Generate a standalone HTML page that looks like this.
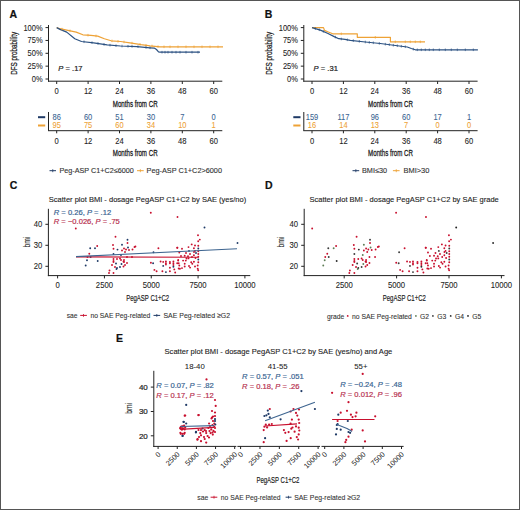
<!DOCTYPE html><html><head><meta charset="utf-8"><style>html,body{margin:0;padding:0;background:#fff;width:520px;height:510px;overflow:hidden}svg{display:block}text{font-family:"Liberation Sans",sans-serif}</style></head><body>
<svg width="520" height="510" viewBox="0 0 520 510">
<rect x="0" y="0" width="520" height="510" fill="#fff"/>
<text x="9.40" y="18.18" font-size="10.5" text-anchor="start" fill="#111" font-weight="bold"  style="stroke:#111;stroke-width:0.2px;">A</text>
<text transform="translate(13.6,53.3) rotate(-90)" x="0" y="0" font-size="9.2" text-anchor="middle" fill="#1a1a1a" style="stroke:#1a1a1a;stroke-width:0.25" textLength="43" lengthAdjust="spacingAndGlyphs" dominant-baseline="central">DFS probability</text>
<line x1="48.50" y1="25.00" x2="48.50" y2="81.70" stroke="#222" stroke-width="1"/>
<line x1="48.00" y1="81.20" x2="222.30" y2="81.20" stroke="#222" stroke-width="1"/>
<line x1="45.50" y1="27.60" x2="48.50" y2="27.60" stroke="#222" stroke-width="1"/>
<text x="42.60" y="30.57" font-size="8.25" text-anchor="end" fill="#222" font-weight="normal" textLength="19.18" lengthAdjust="spacingAndGlyphs"  style="stroke:#222;stroke-width:0.08px;">100%</text>
<line x1="45.50" y1="40.45" x2="48.50" y2="40.45" stroke="#222" stroke-width="1"/>
<text x="42.60" y="43.42" font-size="8.25" text-anchor="end" fill="#222" font-weight="normal" textLength="15.01" lengthAdjust="spacingAndGlyphs"  style="stroke:#222;stroke-width:0.08px;">75%</text>
<line x1="45.50" y1="53.30" x2="48.50" y2="53.30" stroke="#222" stroke-width="1"/>
<text x="42.60" y="56.27" font-size="8.25" text-anchor="end" fill="#222" font-weight="normal" textLength="15.01" lengthAdjust="spacingAndGlyphs"  style="stroke:#222;stroke-width:0.08px;">50%</text>
<line x1="45.50" y1="66.15" x2="48.50" y2="66.15" stroke="#222" stroke-width="1"/>
<text x="42.60" y="69.12" font-size="8.25" text-anchor="end" fill="#222" font-weight="normal" textLength="15.01" lengthAdjust="spacingAndGlyphs"  style="stroke:#222;stroke-width:0.08px;">25%</text>
<line x1="45.50" y1="79.00" x2="48.50" y2="79.00" stroke="#222" stroke-width="1"/>
<text x="42.60" y="81.97" font-size="8.25" text-anchor="end" fill="#222" font-weight="normal" textLength="10.84" lengthAdjust="spacingAndGlyphs"  style="stroke:#222;stroke-width:0.08px;">0%</text>
<line x1="56.70" y1="81.20" x2="56.70" y2="84.00" stroke="#222" stroke-width="1"/>
<text x="56.70" y="94.31" font-size="8.36" text-anchor="middle" fill="#222" font-weight="normal" textLength="4.23" lengthAdjust="spacingAndGlyphs"  style="stroke:#222;stroke-width:0.08px;">0</text>
<line x1="88.10" y1="81.20" x2="88.10" y2="84.00" stroke="#222" stroke-width="1"/>
<text x="88.10" y="94.31" font-size="8.36" text-anchor="middle" fill="#222" font-weight="normal" textLength="8.45" lengthAdjust="spacingAndGlyphs"  style="stroke:#222;stroke-width:0.08px;">12</text>
<line x1="119.50" y1="81.20" x2="119.50" y2="84.00" stroke="#222" stroke-width="1"/>
<text x="119.50" y="94.31" font-size="8.36" text-anchor="middle" fill="#222" font-weight="normal" textLength="8.45" lengthAdjust="spacingAndGlyphs"  style="stroke:#222;stroke-width:0.08px;">24</text>
<line x1="150.90" y1="81.20" x2="150.90" y2="84.00" stroke="#222" stroke-width="1"/>
<text x="150.90" y="94.31" font-size="8.36" text-anchor="middle" fill="#222" font-weight="normal" textLength="8.45" lengthAdjust="spacingAndGlyphs"  style="stroke:#222;stroke-width:0.08px;">36</text>
<line x1="182.30" y1="81.20" x2="182.30" y2="84.00" stroke="#222" stroke-width="1"/>
<text x="182.30" y="94.31" font-size="8.36" text-anchor="middle" fill="#222" font-weight="normal" textLength="8.45" lengthAdjust="spacingAndGlyphs"  style="stroke:#222;stroke-width:0.08px;">48</text>
<line x1="213.70" y1="81.20" x2="213.70" y2="84.00" stroke="#222" stroke-width="1"/>
<text x="213.70" y="94.31" font-size="8.36" text-anchor="middle" fill="#222" font-weight="normal" textLength="8.45" lengthAdjust="spacingAndGlyphs"  style="stroke:#222;stroke-width:0.08px;">60</text>
<text x="112.80" y="106.61" font-size="9.2" text-anchor="start" fill="#1a1a1a" font-weight="normal" textLength="44.8" lengthAdjust="spacingAndGlyphs"  style="stroke:#1a1a1a;stroke-width:0.28">Months from CR</text>
<text x="58.30" y="70.74" font-size="7.6" text-anchor="start" fill="#1a1a1a" font-weight="normal"  style="stroke:#1a1a1a;stroke-width:0.2px;"><tspan font-style="italic">P</tspan> = .17</text>
<path d="M56.70,27.60 L60.00,28.70 L66.70,30.10 L76.20,32.10 L82.90,34.80 L91.00,35.40 L97.70,36.10 L104.40,38.80 L111.10,40.80 L120.60,41.50 L130.00,42.80 L141.10,44.60 L150.00,45.80 L160.00,46.80 L223.00,46.80" stroke="#eea236" stroke-width="1.2" fill="none" stroke-linejoin="round"/>
<path d="M56.70,27.60 L60.00,29.40 L66.70,32.10 L74.80,38.80 L81.50,41.50 L93.60,42.80 L107.10,44.90 L120.60,46.00 L137.10,46.60 L150.00,47.80 L154.60,48.20 L156.50,49.50 L158.50,51.80 L160.00,52.20 L200.00,52.20" stroke="#2c5282" stroke-width="1.2" fill="none" stroke-linejoin="round"/>
<line x1="62.00" y1="27.82" x2="62.00" y2="30.42" stroke="#eea236" stroke-width="0.7"/>
<line x1="70.00" y1="29.49" x2="70.00" y2="32.09" stroke="#eea236" stroke-width="0.7"/>
<line x1="88.00" y1="33.88" x2="88.00" y2="36.48" stroke="#eea236" stroke-width="0.7"/>
<line x1="96.00" y1="34.62" x2="96.00" y2="37.22" stroke="#eea236" stroke-width="0.7"/>
<line x1="112.00" y1="39.57" x2="112.00" y2="42.17" stroke="#eea236" stroke-width="0.7"/>
<line x1="118.00" y1="40.01" x2="118.00" y2="42.61" stroke="#eea236" stroke-width="0.7"/>
<line x1="124.00" y1="40.67" x2="124.00" y2="43.27" stroke="#eea236" stroke-width="0.7"/>
<line x1="132.00" y1="41.82" x2="132.00" y2="44.42" stroke="#eea236" stroke-width="0.7"/>
<line x1="140.00" y1="43.12" x2="140.00" y2="45.72" stroke="#eea236" stroke-width="0.7"/>
<line x1="146.00" y1="43.96" x2="146.00" y2="46.56" stroke="#eea236" stroke-width="0.7"/>
<line x1="152.00" y1="44.70" x2="152.00" y2="47.30" stroke="#eea236" stroke-width="0.7"/>
<line x1="158.00" y1="45.30" x2="158.00" y2="47.90" stroke="#eea236" stroke-width="0.7"/>
<line x1="164.00" y1="45.50" x2="164.00" y2="48.10" stroke="#eea236" stroke-width="0.7"/>
<line x1="170.00" y1="45.50" x2="170.00" y2="48.10" stroke="#eea236" stroke-width="0.7"/>
<line x1="178.00" y1="45.50" x2="178.00" y2="48.10" stroke="#eea236" stroke-width="0.7"/>
<line x1="186.00" y1="45.50" x2="186.00" y2="48.10" stroke="#eea236" stroke-width="0.7"/>
<line x1="194.00" y1="45.50" x2="194.00" y2="48.10" stroke="#eea236" stroke-width="0.7"/>
<line x1="202.00" y1="45.50" x2="202.00" y2="48.10" stroke="#eea236" stroke-width="0.7"/>
<line x1="210.00" y1="45.50" x2="210.00" y2="48.10" stroke="#eea236" stroke-width="0.7"/>
<line x1="218.00" y1="45.50" x2="218.00" y2="48.10" stroke="#eea236" stroke-width="0.7"/>
<line x1="84.00" y1="40.47" x2="84.00" y2="43.07" stroke="#2c5282" stroke-width="0.7"/>
<line x1="92.00" y1="41.33" x2="92.00" y2="43.93" stroke="#2c5282" stroke-width="0.7"/>
<line x1="98.00" y1="42.18" x2="98.00" y2="44.78" stroke="#2c5282" stroke-width="0.7"/>
<line x1="104.00" y1="43.12" x2="104.00" y2="45.72" stroke="#2c5282" stroke-width="0.7"/>
<line x1="110.00" y1="43.84" x2="110.00" y2="46.44" stroke="#2c5282" stroke-width="0.7"/>
<line x1="116.00" y1="44.33" x2="116.00" y2="46.93" stroke="#2c5282" stroke-width="0.7"/>
<line x1="122.00" y1="44.75" x2="122.00" y2="47.35" stroke="#2c5282" stroke-width="0.7"/>
<line x1="128.00" y1="44.97" x2="128.00" y2="47.57" stroke="#2c5282" stroke-width="0.7"/>
<line x1="132.00" y1="45.11" x2="132.00" y2="47.71" stroke="#2c5282" stroke-width="0.7"/>
<line x1="138.00" y1="45.38" x2="138.00" y2="47.98" stroke="#2c5282" stroke-width="0.7"/>
<line x1="146.00" y1="46.13" x2="146.00" y2="48.73" stroke="#2c5282" stroke-width="0.7"/>
<line x1="150.00" y1="46.50" x2="150.00" y2="49.10" stroke="#2c5282" stroke-width="0.7"/>
<line x1="162.00" y1="50.90" x2="162.00" y2="53.50" stroke="#2c5282" stroke-width="0.7"/>
<line x1="165.00" y1="50.90" x2="165.00" y2="53.50" stroke="#2c5282" stroke-width="0.7"/>
<line x1="168.00" y1="50.90" x2="168.00" y2="53.50" stroke="#2c5282" stroke-width="0.7"/>
<line x1="172.00" y1="50.90" x2="172.00" y2="53.50" stroke="#2c5282" stroke-width="0.7"/>
<line x1="176.00" y1="50.90" x2="176.00" y2="53.50" stroke="#2c5282" stroke-width="0.7"/>
<line x1="180.00" y1="50.90" x2="180.00" y2="53.50" stroke="#2c5282" stroke-width="0.7"/>
<line x1="186.00" y1="50.90" x2="186.00" y2="53.50" stroke="#2c5282" stroke-width="0.7"/>
<line x1="192.00" y1="50.90" x2="192.00" y2="53.50" stroke="#2c5282" stroke-width="0.7"/>
<line x1="198.00" y1="50.90" x2="198.00" y2="53.50" stroke="#2c5282" stroke-width="0.7"/>
<line x1="48.50" y1="112.00" x2="48.50" y2="130.70" stroke="#222" stroke-width="1"/>
<line x1="48.00" y1="130.70" x2="222.30" y2="130.70" stroke="#222" stroke-width="1"/>
<line x1="38.00" y1="117.20" x2="45.20" y2="117.20" stroke="#1f3a66" stroke-width="2"/>
<line x1="38.00" y1="125.50" x2="45.20" y2="125.50" stroke="#eea236" stroke-width="2"/>
<line x1="56.70" y1="130.70" x2="56.70" y2="133.30" stroke="#222" stroke-width="1"/>
<text x="56.70" y="143.51" font-size="8.36" text-anchor="middle" fill="#222" font-weight="normal" textLength="4.23" lengthAdjust="spacingAndGlyphs"  style="stroke:#222;stroke-width:0.08px;">0</text>
<text x="56.70" y="120.07" font-size="8.25" text-anchor="middle" fill="#3a6592" font-weight="normal" textLength="8.34" lengthAdjust="spacingAndGlyphs"  style="stroke:#3a6592;stroke-width:0.08px;">86</text>
<text x="56.70" y="128.27" font-size="8.25" text-anchor="middle" fill="#eea236" font-weight="normal" textLength="8.34" lengthAdjust="spacingAndGlyphs"  style="stroke:#eea236;stroke-width:0.08px;">95</text>
<line x1="88.10" y1="130.70" x2="88.10" y2="133.30" stroke="#222" stroke-width="1"/>
<text x="88.10" y="143.51" font-size="8.36" text-anchor="middle" fill="#222" font-weight="normal" textLength="8.45" lengthAdjust="spacingAndGlyphs"  style="stroke:#222;stroke-width:0.08px;">12</text>
<text x="88.10" y="120.07" font-size="8.25" text-anchor="middle" fill="#3a6592" font-weight="normal" textLength="8.34" lengthAdjust="spacingAndGlyphs"  style="stroke:#3a6592;stroke-width:0.08px;">60</text>
<text x="88.10" y="128.27" font-size="8.25" text-anchor="middle" fill="#eea236" font-weight="normal" textLength="8.34" lengthAdjust="spacingAndGlyphs"  style="stroke:#eea236;stroke-width:0.08px;">75</text>
<line x1="119.50" y1="130.70" x2="119.50" y2="133.30" stroke="#222" stroke-width="1"/>
<text x="119.50" y="143.51" font-size="8.36" text-anchor="middle" fill="#222" font-weight="normal" textLength="8.45" lengthAdjust="spacingAndGlyphs"  style="stroke:#222;stroke-width:0.08px;">24</text>
<text x="119.50" y="120.07" font-size="8.25" text-anchor="middle" fill="#3a6592" font-weight="normal" textLength="8.34" lengthAdjust="spacingAndGlyphs"  style="stroke:#3a6592;stroke-width:0.08px;">51</text>
<text x="119.50" y="128.27" font-size="8.25" text-anchor="middle" fill="#eea236" font-weight="normal" textLength="8.34" lengthAdjust="spacingAndGlyphs"  style="stroke:#eea236;stroke-width:0.08px;">60</text>
<line x1="150.90" y1="130.70" x2="150.90" y2="133.30" stroke="#222" stroke-width="1"/>
<text x="150.90" y="143.51" font-size="8.36" text-anchor="middle" fill="#222" font-weight="normal" textLength="8.45" lengthAdjust="spacingAndGlyphs"  style="stroke:#222;stroke-width:0.08px;">36</text>
<text x="150.90" y="120.07" font-size="8.25" text-anchor="middle" fill="#3a6592" font-weight="normal" textLength="8.34" lengthAdjust="spacingAndGlyphs"  style="stroke:#3a6592;stroke-width:0.08px;">30</text>
<text x="150.90" y="128.27" font-size="8.25" text-anchor="middle" fill="#eea236" font-weight="normal" textLength="8.34" lengthAdjust="spacingAndGlyphs"  style="stroke:#eea236;stroke-width:0.08px;">34</text>
<line x1="182.30" y1="130.70" x2="182.30" y2="133.30" stroke="#222" stroke-width="1"/>
<text x="182.30" y="143.51" font-size="8.36" text-anchor="middle" fill="#222" font-weight="normal" textLength="8.45" lengthAdjust="spacingAndGlyphs"  style="stroke:#222;stroke-width:0.08px;">48</text>
<text x="182.30" y="120.07" font-size="8.25" text-anchor="middle" fill="#3a6592" font-weight="normal" textLength="4.17" lengthAdjust="spacingAndGlyphs"  style="stroke:#3a6592;stroke-width:0.08px;">7</text>
<text x="182.30" y="128.27" font-size="8.25" text-anchor="middle" fill="#eea236" font-weight="normal" textLength="8.34" lengthAdjust="spacingAndGlyphs"  style="stroke:#eea236;stroke-width:0.08px;">10</text>
<line x1="213.70" y1="130.70" x2="213.70" y2="133.30" stroke="#222" stroke-width="1"/>
<text x="213.70" y="143.51" font-size="8.36" text-anchor="middle" fill="#222" font-weight="normal" textLength="8.45" lengthAdjust="spacingAndGlyphs"  style="stroke:#222;stroke-width:0.08px;">60</text>
<text x="213.70" y="120.07" font-size="8.25" text-anchor="middle" fill="#3a6592" font-weight="normal" textLength="4.17" lengthAdjust="spacingAndGlyphs"  style="stroke:#3a6592;stroke-width:0.08px;">0</text>
<text x="213.70" y="128.27" font-size="8.25" text-anchor="middle" fill="#eea236" font-weight="normal" textLength="4.17" lengthAdjust="spacingAndGlyphs"  style="stroke:#eea236;stroke-width:0.08px;">1</text>
<text x="112.80" y="155.81" font-size="9.2" text-anchor="start" fill="#1a1a1a" font-weight="normal" textLength="44.8" lengthAdjust="spacingAndGlyphs"  style="stroke:#1a1a1a;stroke-width:0.28">Months from CR</text>
<line x1="49.50" y1="170.70" x2="56.00" y2="170.70" stroke="#1f3a66" stroke-width="1"/>
<line x1="52.75" y1="169.20" x2="52.75" y2="172.20" stroke="#1f3a66" stroke-width="0.8"/>
<text x="59.50" y="173.20" font-size="7.5" text-anchor="start" fill="#333" font-weight="normal" textLength="74.19999999999999" lengthAdjust="spacingAndGlyphs"  style="stroke:#333;stroke-width:0.12px;">Peg-ASP C1+C2≤6000</text>
<line x1="137.00" y1="170.70" x2="143.70" y2="170.70" stroke="#eea236" stroke-width="1"/>
<line x1="140.35" y1="169.20" x2="140.35" y2="172.20" stroke="#eea236" stroke-width="0.8"/>
<text x="146.50" y="173.20" font-size="7.5" text-anchor="start" fill="#333" font-weight="normal" textLength="75.5" lengthAdjust="spacingAndGlyphs"  style="stroke:#333;stroke-width:0.12px;">Peg-ASP C1+C2&gt;6000</text>
<text x="264.70" y="18.18" font-size="10.5" text-anchor="start" fill="#111" font-weight="bold"  style="stroke:#111;stroke-width:0.2px;">B</text>
<text transform="translate(268.90000000000003,53.3) rotate(-90)" x="0" y="0" font-size="9.2" text-anchor="middle" fill="#1a1a1a" style="stroke:#1a1a1a;stroke-width:0.25" textLength="43" lengthAdjust="spacingAndGlyphs" dominant-baseline="central">DFS probability</text>
<line x1="303.80" y1="25.00" x2="303.80" y2="81.70" stroke="#222" stroke-width="1"/>
<line x1="303.30" y1="81.20" x2="477.60" y2="81.20" stroke="#222" stroke-width="1"/>
<line x1="300.80" y1="27.60" x2="303.80" y2="27.60" stroke="#222" stroke-width="1"/>
<text x="297.90" y="30.57" font-size="8.25" text-anchor="end" fill="#222" font-weight="normal" textLength="19.18" lengthAdjust="spacingAndGlyphs"  style="stroke:#222;stroke-width:0.08px;">100%</text>
<line x1="300.80" y1="40.45" x2="303.80" y2="40.45" stroke="#222" stroke-width="1"/>
<text x="297.90" y="43.42" font-size="8.25" text-anchor="end" fill="#222" font-weight="normal" textLength="15.01" lengthAdjust="spacingAndGlyphs"  style="stroke:#222;stroke-width:0.08px;">75%</text>
<line x1="300.80" y1="53.30" x2="303.80" y2="53.30" stroke="#222" stroke-width="1"/>
<text x="297.90" y="56.27" font-size="8.25" text-anchor="end" fill="#222" font-weight="normal" textLength="15.01" lengthAdjust="spacingAndGlyphs"  style="stroke:#222;stroke-width:0.08px;">50%</text>
<line x1="300.80" y1="66.15" x2="303.80" y2="66.15" stroke="#222" stroke-width="1"/>
<text x="297.90" y="69.12" font-size="8.25" text-anchor="end" fill="#222" font-weight="normal" textLength="15.01" lengthAdjust="spacingAndGlyphs"  style="stroke:#222;stroke-width:0.08px;">25%</text>
<line x1="300.80" y1="79.00" x2="303.80" y2="79.00" stroke="#222" stroke-width="1"/>
<text x="297.90" y="81.97" font-size="8.25" text-anchor="end" fill="#222" font-weight="normal" textLength="10.84" lengthAdjust="spacingAndGlyphs"  style="stroke:#222;stroke-width:0.08px;">0%</text>
<line x1="312.00" y1="81.20" x2="312.00" y2="84.00" stroke="#222" stroke-width="1"/>
<text x="312.00" y="94.31" font-size="8.36" text-anchor="middle" fill="#222" font-weight="normal" textLength="4.23" lengthAdjust="spacingAndGlyphs"  style="stroke:#222;stroke-width:0.08px;">0</text>
<line x1="343.40" y1="81.20" x2="343.40" y2="84.00" stroke="#222" stroke-width="1"/>
<text x="343.40" y="94.31" font-size="8.36" text-anchor="middle" fill="#222" font-weight="normal" textLength="8.45" lengthAdjust="spacingAndGlyphs"  style="stroke:#222;stroke-width:0.08px;">12</text>
<line x1="374.80" y1="81.20" x2="374.80" y2="84.00" stroke="#222" stroke-width="1"/>
<text x="374.80" y="94.31" font-size="8.36" text-anchor="middle" fill="#222" font-weight="normal" textLength="8.45" lengthAdjust="spacingAndGlyphs"  style="stroke:#222;stroke-width:0.08px;">24</text>
<line x1="406.20" y1="81.20" x2="406.20" y2="84.00" stroke="#222" stroke-width="1"/>
<text x="406.20" y="94.31" font-size="8.36" text-anchor="middle" fill="#222" font-weight="normal" textLength="8.45" lengthAdjust="spacingAndGlyphs"  style="stroke:#222;stroke-width:0.08px;">36</text>
<line x1="437.60" y1="81.20" x2="437.60" y2="84.00" stroke="#222" stroke-width="1"/>
<text x="437.60" y="94.31" font-size="8.36" text-anchor="middle" fill="#222" font-weight="normal" textLength="8.45" lengthAdjust="spacingAndGlyphs"  style="stroke:#222;stroke-width:0.08px;">48</text>
<line x1="469.00" y1="81.20" x2="469.00" y2="84.00" stroke="#222" stroke-width="1"/>
<text x="469.00" y="94.31" font-size="8.36" text-anchor="middle" fill="#222" font-weight="normal" textLength="8.45" lengthAdjust="spacingAndGlyphs"  style="stroke:#222;stroke-width:0.08px;">60</text>
<text x="368.10" y="106.61" font-size="9.2" text-anchor="start" fill="#1a1a1a" font-weight="normal" textLength="44.8" lengthAdjust="spacingAndGlyphs"  style="stroke:#1a1a1a;stroke-width:0.28">Months from CR</text>
<text x="313.60" y="70.74" font-size="7.6" text-anchor="start" fill="#1a1a1a" font-weight="normal"  style="stroke:#1a1a1a;stroke-width:0.2px;"><tspan font-style="italic">P</tspan> = .31</text>
<path d="M312.00,27.60 L323.50,27.60 L324.50,30.40 L328.30,32.00 L332.70,33.80 L357.30,33.80 L357.30,37.30 L390.40,37.30 L390.40,41.80 L425.00,41.80" stroke="#eea236" stroke-width="1.2" fill="none" stroke-linejoin="round"/>
<path d="M312.00,27.60 L320.40,30.10 L328.00,33.50 L334.20,36.60 L338.80,38.70 L345.00,39.40 L350.30,40.30 L365.30,42.00 L380.30,43.50 L399.30,46.00 L407.30,47.00 L411.30,48.50 L415.30,49.80 L477.90,49.80" stroke="#2c5282" stroke-width="1.2" fill="none" stroke-linejoin="round"/>
<line x1="341.30" y1="32.50" x2="341.30" y2="35.10" stroke="#eea236" stroke-width="0.7"/>
<line x1="375.30" y1="36.00" x2="375.30" y2="38.60" stroke="#eea236" stroke-width="0.7"/>
<line x1="395.30" y1="40.50" x2="395.30" y2="43.10" stroke="#eea236" stroke-width="0.7"/>
<line x1="405.30" y1="40.50" x2="405.30" y2="43.10" stroke="#eea236" stroke-width="0.7"/>
<line x1="410.30" y1="40.50" x2="410.30" y2="43.10" stroke="#eea236" stroke-width="0.7"/>
<line x1="415.30" y1="40.50" x2="415.30" y2="43.10" stroke="#eea236" stroke-width="0.7"/>
<line x1="420.30" y1="40.50" x2="420.30" y2="43.10" stroke="#eea236" stroke-width="0.7"/>
<line x1="315.30" y1="27.28" x2="315.30" y2="29.88" stroke="#2c5282" stroke-width="0.7"/>
<line x1="319.30" y1="28.47" x2="319.30" y2="31.07" stroke="#2c5282" stroke-width="0.7"/>
<line x1="323.30" y1="30.10" x2="323.30" y2="32.70" stroke="#2c5282" stroke-width="0.7"/>
<line x1="335.30" y1="35.80" x2="335.30" y2="38.40" stroke="#2c5282" stroke-width="0.7"/>
<line x1="341.30" y1="37.68" x2="341.30" y2="40.28" stroke="#2c5282" stroke-width="0.7"/>
<line x1="347.30" y1="38.49" x2="347.30" y2="41.09" stroke="#2c5282" stroke-width="0.7"/>
<line x1="353.30" y1="39.34" x2="353.30" y2="41.94" stroke="#2c5282" stroke-width="0.7"/>
<line x1="359.30" y1="40.02" x2="359.30" y2="42.62" stroke="#2c5282" stroke-width="0.7"/>
<line x1="365.30" y1="40.70" x2="365.30" y2="43.30" stroke="#2c5282" stroke-width="0.7"/>
<line x1="369.30" y1="41.10" x2="369.30" y2="43.70" stroke="#2c5282" stroke-width="0.7"/>
<line x1="373.30" y1="41.50" x2="373.30" y2="44.10" stroke="#2c5282" stroke-width="0.7"/>
<line x1="379.30" y1="42.10" x2="379.30" y2="44.70" stroke="#2c5282" stroke-width="0.7"/>
<line x1="385.30" y1="42.86" x2="385.30" y2="45.46" stroke="#2c5282" stroke-width="0.7"/>
<line x1="389.30" y1="43.38" x2="389.30" y2="45.98" stroke="#2c5282" stroke-width="0.7"/>
<line x1="393.30" y1="43.91" x2="393.30" y2="46.51" stroke="#2c5282" stroke-width="0.7"/>
<line x1="397.30" y1="44.44" x2="397.30" y2="47.04" stroke="#2c5282" stroke-width="0.7"/>
<line x1="401.30" y1="44.95" x2="401.30" y2="47.55" stroke="#2c5282" stroke-width="0.7"/>
<line x1="405.30" y1="45.45" x2="405.30" y2="48.05" stroke="#2c5282" stroke-width="0.7"/>
<line x1="413.30" y1="47.85" x2="413.30" y2="50.45" stroke="#2c5282" stroke-width="0.7"/>
<line x1="417.30" y1="48.50" x2="417.30" y2="51.10" stroke="#2c5282" stroke-width="0.7"/>
<line x1="421.30" y1="48.50" x2="421.30" y2="51.10" stroke="#2c5282" stroke-width="0.7"/>
<line x1="425.30" y1="48.50" x2="425.30" y2="51.10" stroke="#2c5282" stroke-width="0.7"/>
<line x1="429.30" y1="48.50" x2="429.30" y2="51.10" stroke="#2c5282" stroke-width="0.7"/>
<line x1="433.30" y1="48.50" x2="433.30" y2="51.10" stroke="#2c5282" stroke-width="0.7"/>
<line x1="439.30" y1="48.50" x2="439.30" y2="51.10" stroke="#2c5282" stroke-width="0.7"/>
<line x1="445.30" y1="48.50" x2="445.30" y2="51.10" stroke="#2c5282" stroke-width="0.7"/>
<line x1="451.30" y1="48.50" x2="451.30" y2="51.10" stroke="#2c5282" stroke-width="0.7"/>
<line x1="457.30" y1="48.50" x2="457.30" y2="51.10" stroke="#2c5282" stroke-width="0.7"/>
<line x1="465.30" y1="48.50" x2="465.30" y2="51.10" stroke="#2c5282" stroke-width="0.7"/>
<line x1="473.30" y1="48.50" x2="473.30" y2="51.10" stroke="#2c5282" stroke-width="0.7"/>
<line x1="303.80" y1="112.00" x2="303.80" y2="130.70" stroke="#222" stroke-width="1"/>
<line x1="303.30" y1="130.70" x2="477.60" y2="130.70" stroke="#222" stroke-width="1"/>
<line x1="293.30" y1="117.20" x2="300.50" y2="117.20" stroke="#1f3a66" stroke-width="2"/>
<line x1="293.30" y1="125.50" x2="300.50" y2="125.50" stroke="#eea236" stroke-width="2"/>
<line x1="312.00" y1="130.70" x2="312.00" y2="133.30" stroke="#222" stroke-width="1"/>
<text x="312.00" y="143.51" font-size="8.36" text-anchor="middle" fill="#222" font-weight="normal" textLength="4.23" lengthAdjust="spacingAndGlyphs"  style="stroke:#222;stroke-width:0.08px;">0</text>
<text x="312.00" y="120.07" font-size="8.25" text-anchor="middle" fill="#3a6592" font-weight="normal" textLength="12.51" lengthAdjust="spacingAndGlyphs"  style="stroke:#3a6592;stroke-width:0.08px;">159</text>
<text x="312.00" y="128.27" font-size="8.25" text-anchor="middle" fill="#eea236" font-weight="normal" textLength="8.34" lengthAdjust="spacingAndGlyphs"  style="stroke:#eea236;stroke-width:0.08px;">16</text>
<line x1="343.40" y1="130.70" x2="343.40" y2="133.30" stroke="#222" stroke-width="1"/>
<text x="343.40" y="143.51" font-size="8.36" text-anchor="middle" fill="#222" font-weight="normal" textLength="8.45" lengthAdjust="spacingAndGlyphs"  style="stroke:#222;stroke-width:0.08px;">12</text>
<text x="343.40" y="120.07" font-size="8.25" text-anchor="middle" fill="#3a6592" font-weight="normal" textLength="11.96" lengthAdjust="spacingAndGlyphs"  style="stroke:#3a6592;stroke-width:0.08px;">117</text>
<text x="343.40" y="128.27" font-size="8.25" text-anchor="middle" fill="#eea236" font-weight="normal" textLength="8.34" lengthAdjust="spacingAndGlyphs"  style="stroke:#eea236;stroke-width:0.08px;">14</text>
<line x1="374.80" y1="130.70" x2="374.80" y2="133.30" stroke="#222" stroke-width="1"/>
<text x="374.80" y="143.51" font-size="8.36" text-anchor="middle" fill="#222" font-weight="normal" textLength="8.45" lengthAdjust="spacingAndGlyphs"  style="stroke:#222;stroke-width:0.08px;">24</text>
<text x="374.80" y="120.07" font-size="8.25" text-anchor="middle" fill="#3a6592" font-weight="normal" textLength="8.34" lengthAdjust="spacingAndGlyphs"  style="stroke:#3a6592;stroke-width:0.08px;">96</text>
<text x="374.80" y="128.27" font-size="8.25" text-anchor="middle" fill="#eea236" font-weight="normal" textLength="8.34" lengthAdjust="spacingAndGlyphs"  style="stroke:#eea236;stroke-width:0.08px;">13</text>
<line x1="406.20" y1="130.70" x2="406.20" y2="133.30" stroke="#222" stroke-width="1"/>
<text x="406.20" y="143.51" font-size="8.36" text-anchor="middle" fill="#222" font-weight="normal" textLength="8.45" lengthAdjust="spacingAndGlyphs"  style="stroke:#222;stroke-width:0.08px;">36</text>
<text x="406.20" y="120.07" font-size="8.25" text-anchor="middle" fill="#3a6592" font-weight="normal" textLength="8.34" lengthAdjust="spacingAndGlyphs"  style="stroke:#3a6592;stroke-width:0.08px;">60</text>
<text x="406.20" y="128.27" font-size="8.25" text-anchor="middle" fill="#eea236" font-weight="normal" textLength="4.17" lengthAdjust="spacingAndGlyphs"  style="stroke:#eea236;stroke-width:0.08px;">7</text>
<line x1="437.60" y1="130.70" x2="437.60" y2="133.30" stroke="#222" stroke-width="1"/>
<text x="437.60" y="143.51" font-size="8.36" text-anchor="middle" fill="#222" font-weight="normal" textLength="8.45" lengthAdjust="spacingAndGlyphs"  style="stroke:#222;stroke-width:0.08px;">48</text>
<text x="437.60" y="120.07" font-size="8.25" text-anchor="middle" fill="#3a6592" font-weight="normal" textLength="8.34" lengthAdjust="spacingAndGlyphs"  style="stroke:#3a6592;stroke-width:0.08px;">17</text>
<text x="437.60" y="128.27" font-size="8.25" text-anchor="middle" fill="#eea236" font-weight="normal" textLength="4.17" lengthAdjust="spacingAndGlyphs"  style="stroke:#eea236;stroke-width:0.08px;">0</text>
<line x1="469.00" y1="130.70" x2="469.00" y2="133.30" stroke="#222" stroke-width="1"/>
<text x="469.00" y="143.51" font-size="8.36" text-anchor="middle" fill="#222" font-weight="normal" textLength="8.45" lengthAdjust="spacingAndGlyphs"  style="stroke:#222;stroke-width:0.08px;">60</text>
<text x="469.00" y="120.07" font-size="8.25" text-anchor="middle" fill="#3a6592" font-weight="normal" textLength="4.17" lengthAdjust="spacingAndGlyphs"  style="stroke:#3a6592;stroke-width:0.08px;">1</text>
<text x="469.00" y="128.27" font-size="8.25" text-anchor="middle" fill="#eea236" font-weight="normal" textLength="4.17" lengthAdjust="spacingAndGlyphs"  style="stroke:#eea236;stroke-width:0.08px;">0</text>
<text x="368.10" y="155.81" font-size="9.2" text-anchor="start" fill="#1a1a1a" font-weight="normal" textLength="44.8" lengthAdjust="spacingAndGlyphs"  style="stroke:#1a1a1a;stroke-width:0.28">Months from CR</text>
<line x1="352.50" y1="170.70" x2="359.20" y2="170.70" stroke="#1f3a66" stroke-width="1"/>
<line x1="355.85" y1="169.20" x2="355.85" y2="172.20" stroke="#1f3a66" stroke-width="0.8"/>
<text x="362.00" y="173.20" font-size="7.5" text-anchor="start" fill="#333" font-weight="normal" textLength="24.999999999999986" lengthAdjust="spacingAndGlyphs"  style="stroke:#333;stroke-width:0.12px;">BMI≤30</text>
<line x1="392.90" y1="170.70" x2="399.60" y2="170.70" stroke="#eea236" stroke-width="1"/>
<line x1="396.25" y1="169.20" x2="396.25" y2="172.20" stroke="#eea236" stroke-width="0.8"/>
<text x="403.50" y="173.20" font-size="7.5" text-anchor="start" fill="#333" font-weight="normal" textLength="25.900000000000006" lengthAdjust="spacingAndGlyphs"  style="stroke:#333;stroke-width:0.12px;">BMI&gt;30</text>
<text x="9.80" y="189.48" font-size="10.5" text-anchor="start" fill="#111" font-weight="bold"  style="stroke:#111;stroke-width:0.2px;">C</text>
<text x="48.75" y="202.44" font-size="7.9" text-anchor="start" fill="#1e1e1e" font-weight="normal" textLength="197.5" lengthAdjust="spacingAndGlyphs"  style="stroke:#1e1e1e;stroke-width:0.12px;">Scatter plot BMI - dosage PegASP C1+C2 by SAE (yes/no)</text>
<line x1="48.40" y1="208.80" x2="48.40" y2="276.10" stroke="#222" stroke-width="1"/>
<line x1="47.90" y1="275.60" x2="250.30" y2="275.60" stroke="#222" stroke-width="1"/>
<line x1="45.40" y1="224.30" x2="48.40" y2="224.30" stroke="#222" stroke-width="1"/>
<text x="42.20" y="227.30" font-size="8.32" text-anchor="end" fill="#222" font-weight="normal" textLength="8.56" lengthAdjust="spacingAndGlyphs"  style="stroke:#222;stroke-width:0.08px;">40</text>
<line x1="45.40" y1="245.30" x2="48.40" y2="245.30" stroke="#222" stroke-width="1"/>
<text x="42.20" y="248.30" font-size="8.32" text-anchor="end" fill="#222" font-weight="normal" textLength="8.56" lengthAdjust="spacingAndGlyphs"  style="stroke:#222;stroke-width:0.08px;">30</text>
<line x1="45.40" y1="266.30" x2="48.40" y2="266.30" stroke="#222" stroke-width="1"/>
<text x="42.20" y="269.30" font-size="8.32" text-anchor="end" fill="#222" font-weight="normal" textLength="8.56" lengthAdjust="spacingAndGlyphs"  style="stroke:#222;stroke-width:0.08px;">20</text>
<text transform="translate(26.799999999999997,242) rotate(-90)" x="0" y="0" font-size="9" text-anchor="middle" fill="#1a1a1a" style="stroke:#1a1a1a;stroke-width:0.12" textLength="11" lengthAdjust="spacingAndGlyphs" dominant-baseline="central">bmi</text>
<line x1="57.60" y1="275.60" x2="57.60" y2="278.40" stroke="#222" stroke-width="1"/>
<text x="57.60" y="288.40" font-size="8.32" text-anchor="middle" fill="#222" font-weight="normal" textLength="4.28" lengthAdjust="spacingAndGlyphs"  style="stroke:#222;stroke-width:0.08px;">0</text>
<line x1="104.43" y1="275.60" x2="104.43" y2="278.40" stroke="#222" stroke-width="1"/>
<text x="104.43" y="288.40" font-size="8.32" text-anchor="middle" fill="#222" font-weight="normal" textLength="17.13" lengthAdjust="spacingAndGlyphs"  style="stroke:#222;stroke-width:0.08px;">2500</text>
<line x1="151.25" y1="275.60" x2="151.25" y2="278.40" stroke="#222" stroke-width="1"/>
<text x="151.25" y="288.40" font-size="8.32" text-anchor="middle" fill="#222" font-weight="normal" textLength="17.13" lengthAdjust="spacingAndGlyphs"  style="stroke:#222;stroke-width:0.08px;">5000</text>
<line x1="198.07" y1="275.60" x2="198.07" y2="278.40" stroke="#222" stroke-width="1"/>
<text x="198.07" y="288.40" font-size="8.32" text-anchor="middle" fill="#222" font-weight="normal" textLength="17.13" lengthAdjust="spacingAndGlyphs"  style="stroke:#222;stroke-width:0.08px;">7500</text>
<line x1="244.90" y1="275.60" x2="244.90" y2="278.40" stroke="#222" stroke-width="1"/>
<text x="244.90" y="288.40" font-size="8.32" text-anchor="middle" fill="#222" font-weight="normal" textLength="21.41" lengthAdjust="spacingAndGlyphs"  style="stroke:#222;stroke-width:0.08px;">10000</text>
<text x="66.70" y="318.17" font-size="7.7" text-anchor="start" fill="#333" font-weight="normal" textLength="10.8" lengthAdjust="spacingAndGlyphs"  style="stroke:#333;stroke-width:0.1px;">sae</text>
<line x1="80.20" y1="315.40" x2="86.90" y2="315.40" stroke="#c8102e" stroke-width="1"/>
<line x1="83.50" y1="314.00" x2="83.50" y2="316.80" stroke="#c8102e" stroke-width="0.8"/>
<text x="90.40" y="318.17" font-size="7.7" text-anchor="start" fill="#333" font-weight="normal" textLength="60" lengthAdjust="spacingAndGlyphs"  style="stroke:#333;stroke-width:0.1px;">no SAE Peg-related</text>
<line x1="153.50" y1="315.40" x2="160.20" y2="315.40" stroke="#1f3a66" stroke-width="1"/>
<line x1="156.80" y1="314.00" x2="156.80" y2="316.80" stroke="#1f3a66" stroke-width="0.8"/>
<text x="163.50" y="318.17" font-size="7.7" text-anchor="start" fill="#333" font-weight="normal" textLength="66.5" lengthAdjust="spacingAndGlyphs"  style="stroke:#333;stroke-width:0.1px;">SAE Peg-related ≥G2</text>
<text x="126.20" y="301.29" font-size="9.7" text-anchor="start" fill="#1a1a1a" font-weight="normal" textLength="43" lengthAdjust="spacingAndGlyphs"  style="stroke:#1a1a1a;stroke-width:0.18">PegASP C1+C2</text>
<text x="53.75" y="215.34" font-size="7.6" text-anchor="start" fill="#3a6592" font-weight="normal"  style="stroke:#3a6592;stroke-width:0.2px;"><tspan font-style="italic">R</tspan> = 0.26, <tspan font-style="italic">P</tspan> = .12</text>
<text x="53.75" y="224.34" font-size="7.6" text-anchor="start" fill="#b83250" font-weight="normal"  style="stroke:#b83250;stroke-width:0.2px;"><tspan font-style="italic">R</tspan> = −0.026, <tspan font-style="italic">P</tspan> = .75</text>
<circle cx="75.80" cy="228.50" r="0.95" fill="#c8102e"/>
<circle cx="150.80" cy="212.70" r="0.95" fill="#c8102e"/>
<circle cx="177.50" cy="217.00" r="0.95" fill="#c8102e"/>
<circle cx="204.50" cy="227.50" r="0.95" fill="#1f3a66"/>
<circle cx="237.50" cy="243.00" r="0.95" fill="#1f3a66"/>
<circle cx="90.20" cy="248.20" r="0.95" fill="#1f3a66"/>
<circle cx="95.00" cy="248.20" r="0.95" fill="#1f3a66"/>
<circle cx="97.20" cy="246.00" r="0.95" fill="#c8102e"/>
<circle cx="89.30" cy="253.70" r="0.95" fill="#c8102e"/>
<circle cx="90.60" cy="257.00" r="0.95" fill="#1f3a66"/>
<circle cx="87.50" cy="257.00" r="0.95" fill="#c8102e"/>
<circle cx="87.00" cy="260.20" r="0.95" fill="#1f3a66"/>
<circle cx="97.70" cy="261.00" r="0.95" fill="#1f3a66"/>
<circle cx="85.70" cy="265.50" r="0.95" fill="#1f3a66"/>
<circle cx="115.50" cy="236.70" r="0.95" fill="#c8102e"/>
<circle cx="127.50" cy="239.80" r="0.95" fill="#1f3a66"/>
<circle cx="127.50" cy="243.00" r="0.95" fill="#c8102e"/>
<circle cx="113.00" cy="245.00" r="0.95" fill="#c8102e"/>
<circle cx="122.00" cy="244.70" r="0.95" fill="#1f3a66"/>
<circle cx="113.50" cy="248.80" r="0.95" fill="#c8102e"/>
<circle cx="117.50" cy="249.60" r="0.95" fill="#1f3a66"/>
<circle cx="122.00" cy="250.50" r="0.95" fill="#c8102e"/>
<circle cx="124.00" cy="248.50" r="0.95" fill="#c8102e"/>
<circle cx="126.00" cy="249.50" r="0.95" fill="#c8102e"/>
<circle cx="128.00" cy="247.50" r="0.95" fill="#1f3a66"/>
<circle cx="129.00" cy="250.00" r="0.95" fill="#c8102e"/>
<circle cx="132.50" cy="249.50" r="0.95" fill="#c8102e"/>
<circle cx="134.50" cy="247.00" r="0.95" fill="#c8102e"/>
<circle cx="125.00" cy="252.00" r="0.95" fill="#c8102e"/>
<circle cx="113.50" cy="254.00" r="0.95" fill="#1f3a66"/>
<circle cx="121.00" cy="255.00" r="0.95" fill="#1f3a66"/>
<circle cx="113.50" cy="259.00" r="0.95" fill="#c8102e"/>
<circle cx="117.00" cy="259.00" r="0.95" fill="#c8102e"/>
<circle cx="120.00" cy="258.50" r="0.95" fill="#c8102e"/>
<circle cx="121.00" cy="260.00" r="0.95" fill="#c8102e"/>
<circle cx="124.00" cy="260.00" r="0.95" fill="#c8102e"/>
<circle cx="113.50" cy="261.00" r="0.95" fill="#c8102e"/>
<circle cx="123.50" cy="261.50" r="0.95" fill="#c8102e"/>
<circle cx="127.00" cy="257.00" r="0.95" fill="#c8102e"/>
<circle cx="132.00" cy="257.00" r="0.95" fill="#c8102e"/>
<circle cx="113.50" cy="262.00" r="0.95" fill="#c8102e"/>
<circle cx="112.00" cy="265.00" r="0.95" fill="#c8102e"/>
<circle cx="116.00" cy="263.50" r="0.95" fill="#1f3a66"/>
<circle cx="121.50" cy="264.00" r="0.95" fill="#1f3a66"/>
<circle cx="124.00" cy="262.00" r="0.95" fill="#c8102e"/>
<circle cx="127.00" cy="263.00" r="0.95" fill="#c8102e"/>
<circle cx="115.00" cy="267.00" r="0.95" fill="#c8102e"/>
<circle cx="117.00" cy="268.00" r="0.95" fill="#1f3a66"/>
<circle cx="120.00" cy="267.00" r="0.95" fill="#1f3a66"/>
<circle cx="123.50" cy="266.50" r="0.95" fill="#c8102e"/>
<circle cx="125.00" cy="265.00" r="0.95" fill="#c8102e"/>
<circle cx="109.50" cy="270.50" r="0.95" fill="#c8102e"/>
<circle cx="109.00" cy="273.00" r="0.95" fill="#c8102e"/>
<circle cx="113.50" cy="273.00" r="0.95" fill="#c8102e"/>
<circle cx="116.50" cy="269.00" r="0.95" fill="#1f3a66"/>
<circle cx="135.40" cy="246.50" r="0.95" fill="#c8102e"/>
<circle cx="158.40" cy="248.20" r="0.95" fill="#c8102e"/>
<circle cx="153.50" cy="252.20" r="0.95" fill="#1f3a66"/>
<circle cx="177.40" cy="247.80" r="0.95" fill="#c8102e"/>
<circle cx="150.90" cy="262.80" r="0.95" fill="#c8102e"/>
<circle cx="153.10" cy="263.20" r="0.95" fill="#1f3a66"/>
<circle cx="160.60" cy="261.50" r="0.95" fill="#c8102e"/>
<circle cx="163.20" cy="261.90" r="0.95" fill="#c8102e"/>
<circle cx="165.90" cy="261.50" r="0.95" fill="#c8102e"/>
<circle cx="165.90" cy="263.20" r="0.95" fill="#c8102e"/>
<circle cx="165.90" cy="264.60" r="0.95" fill="#c8102e"/>
<circle cx="169.90" cy="261.90" r="0.95" fill="#c8102e"/>
<circle cx="169.90" cy="263.20" r="0.95" fill="#c8102e"/>
<circle cx="173.40" cy="261.50" r="0.95" fill="#c8102e"/>
<circle cx="173.40" cy="263.20" r="0.95" fill="#c8102e"/>
<circle cx="173.40" cy="265.00" r="0.95" fill="#c8102e"/>
<circle cx="163.20" cy="265.90" r="0.95" fill="#1f3a66"/>
<circle cx="169.90" cy="267.70" r="0.95" fill="#c8102e"/>
<circle cx="173.40" cy="266.80" r="0.95" fill="#1f3a66"/>
<circle cx="154.40" cy="269.90" r="0.95" fill="#c8102e"/>
<circle cx="156.60" cy="271.20" r="0.95" fill="#c8102e"/>
<circle cx="162.40" cy="271.20" r="0.95" fill="#c8102e"/>
<circle cx="165.90" cy="272.10" r="0.95" fill="#1f3a66"/>
<circle cx="169.90" cy="271.20" r="0.95" fill="#c8102e"/>
<circle cx="174.30" cy="269.40" r="0.95" fill="#c8102e"/>
<circle cx="175.20" cy="272.50" r="0.95" fill="#c8102e"/>
<circle cx="178.20" cy="260.60" r="0.95" fill="#c8102e"/>
<circle cx="178.70" cy="263.20" r="0.95" fill="#c8102e"/>
<circle cx="178.70" cy="268.50" r="0.95" fill="#c8102e"/>
<circle cx="198.00" cy="235.20" r="0.95" fill="#c8102e"/>
<circle cx="199.80" cy="239.60" r="0.95" fill="#c8102e"/>
<circle cx="198.20" cy="241.20" r="0.95" fill="#c8102e"/>
<circle cx="191.70" cy="244.40" r="0.95" fill="#c8102e"/>
<circle cx="195.00" cy="245.50" r="0.95" fill="#c8102e"/>
<circle cx="177.20" cy="247.70" r="0.95" fill="#c8102e"/>
<circle cx="182.00" cy="248.70" r="0.95" fill="#c8102e"/>
<circle cx="188.50" cy="247.10" r="0.95" fill="#c8102e"/>
<circle cx="193.90" cy="248.20" r="0.95" fill="#c8102e"/>
<circle cx="189.00" cy="250.90" r="0.95" fill="#1f3a66"/>
<circle cx="195.00" cy="250.90" r="0.95" fill="#c8102e"/>
<circle cx="179.30" cy="252.50" r="0.95" fill="#c8102e"/>
<circle cx="184.70" cy="255.70" r="0.95" fill="#c8102e"/>
<circle cx="188.00" cy="256.30" r="0.95" fill="#c8102e"/>
<circle cx="193.90" cy="255.20" r="0.95" fill="#c8102e"/>
<circle cx="178.20" cy="260.00" r="0.95" fill="#c8102e"/>
<circle cx="183.10" cy="260.60" r="0.95" fill="#c8102e"/>
<circle cx="185.80" cy="260.60" r="0.95" fill="#c8102e"/>
<circle cx="188.50" cy="258.40" r="0.95" fill="#c8102e"/>
<circle cx="191.20" cy="262.20" r="0.95" fill="#c8102e"/>
<circle cx="193.90" cy="261.70" r="0.95" fill="#c8102e"/>
<circle cx="177.20" cy="263.30" r="0.95" fill="#c8102e"/>
<circle cx="184.70" cy="263.80" r="0.95" fill="#c8102e"/>
<circle cx="192.30" cy="263.80" r="0.95" fill="#c8102e"/>
<circle cx="179.30" cy="265.50" r="0.95" fill="#c8102e"/>
<circle cx="184.70" cy="266.50" r="0.95" fill="#c8102e"/>
<circle cx="189.00" cy="266.00" r="0.95" fill="#c8102e"/>
<circle cx="195.00" cy="266.50" r="0.95" fill="#c8102e"/>
<circle cx="197.70" cy="265.50" r="0.95" fill="#c8102e"/>
<circle cx="179.90" cy="268.70" r="0.95" fill="#c8102e"/>
<circle cx="182.00" cy="268.10" r="0.95" fill="#c8102e"/>
<circle cx="190.10" cy="267.60" r="0.95" fill="#c8102e"/>
<circle cx="197.70" cy="268.70" r="0.95" fill="#c8102e"/>
<circle cx="198.20" cy="270.30" r="0.95" fill="#c8102e"/>
<circle cx="186.00" cy="253.00" r="0.95" fill="#c8102e"/>
<circle cx="190.00" cy="254.00" r="0.95" fill="#c8102e"/>
<circle cx="192.00" cy="257.00" r="0.95" fill="#c8102e"/>
<circle cx="195.50" cy="258.00" r="0.95" fill="#c8102e"/>
<circle cx="186.50" cy="258.50" r="0.95" fill="#c8102e"/>
<circle cx="181.00" cy="256.00" r="0.95" fill="#c8102e"/>
<circle cx="196.00" cy="253.00" r="0.95" fill="#1f3a66"/>
<circle cx="194.00" cy="252.00" r="0.95" fill="#c8102e"/>
<circle cx="198.30" cy="245.80" r="0.95" fill="#c8102e"/>
<circle cx="198.30" cy="248.50" r="0.95" fill="#1f3a66"/>
<circle cx="198.30" cy="251.20" r="0.95" fill="#c8102e"/>
<circle cx="198.30" cy="254.00" r="0.95" fill="#c8102e"/>
<circle cx="198.30" cy="256.80" r="0.95" fill="#c8102e"/>
<circle cx="198.30" cy="259.50" r="0.95" fill="#1f3a66"/>
<circle cx="198.30" cy="262.20" r="0.95" fill="#c8102e"/>
<line x1="76.00" y1="256.90" x2="198.60" y2="257.30" stroke="#c8102e" stroke-width="1.1"/>
<line x1="76.00" y1="256.60" x2="237.00" y2="248.70" stroke="#3e6590" stroke-width="1.1"/>
<text x="265.10" y="189.48" font-size="10.5" text-anchor="start" fill="#111" font-weight="bold"  style="stroke:#111;stroke-width:0.2px;">D</text>
<text x="309.50" y="202.44" font-size="7.9" text-anchor="start" fill="#1e1e1e" font-weight="normal" textLength="189.25" lengthAdjust="spacingAndGlyphs"  style="stroke:#1e1e1e;stroke-width:0.12px;">Scatter plot BMI - dosage PegASP C1+C2 by SAE grade</text>
<line x1="304.20" y1="208.80" x2="304.20" y2="276.10" stroke="#222" stroke-width="1"/>
<line x1="303.70" y1="275.60" x2="504.50" y2="275.60" stroke="#222" stroke-width="1"/>
<line x1="301.20" y1="224.30" x2="304.20" y2="224.30" stroke="#222" stroke-width="1"/>
<text x="298.00" y="227.30" font-size="8.32" text-anchor="end" fill="#222" font-weight="normal" textLength="8.56" lengthAdjust="spacingAndGlyphs"  style="stroke:#222;stroke-width:0.08px;">40</text>
<line x1="301.20" y1="245.30" x2="304.20" y2="245.30" stroke="#222" stroke-width="1"/>
<text x="298.00" y="248.30" font-size="8.32" text-anchor="end" fill="#222" font-weight="normal" textLength="8.56" lengthAdjust="spacingAndGlyphs"  style="stroke:#222;stroke-width:0.08px;">30</text>
<line x1="301.20" y1="266.30" x2="304.20" y2="266.30" stroke="#222" stroke-width="1"/>
<text x="298.00" y="269.30" font-size="8.32" text-anchor="end" fill="#222" font-weight="normal" textLength="8.56" lengthAdjust="spacingAndGlyphs"  style="stroke:#222;stroke-width:0.08px;">20</text>
<text transform="translate(281.3,242) rotate(-90)" x="0" y="0" font-size="9" text-anchor="middle" fill="#1a1a1a" style="stroke:#1a1a1a;stroke-width:0.12" textLength="11" lengthAdjust="spacingAndGlyphs" dominant-baseline="central">bmi</text>
<line x1="344.20" y1="275.60" x2="344.20" y2="278.40" stroke="#222" stroke-width="1"/>
<text x="344.20" y="288.40" font-size="8.32" text-anchor="middle" fill="#222" font-weight="normal" textLength="17.13" lengthAdjust="spacingAndGlyphs"  style="stroke:#222;stroke-width:0.08px;">2500</text>
<line x1="396.60" y1="275.60" x2="396.60" y2="278.40" stroke="#222" stroke-width="1"/>
<text x="396.60" y="288.40" font-size="8.32" text-anchor="middle" fill="#222" font-weight="normal" textLength="17.13" lengthAdjust="spacingAndGlyphs"  style="stroke:#222;stroke-width:0.08px;">5000</text>
<line x1="449.00" y1="275.60" x2="449.00" y2="278.40" stroke="#222" stroke-width="1"/>
<text x="449.00" y="288.40" font-size="8.32" text-anchor="middle" fill="#222" font-weight="normal" textLength="17.13" lengthAdjust="spacingAndGlyphs"  style="stroke:#222;stroke-width:0.08px;">7500</text>
<line x1="501.40" y1="275.60" x2="501.40" y2="278.40" stroke="#222" stroke-width="1"/>
<text x="501.40" y="288.40" font-size="8.32" text-anchor="middle" fill="#222" font-weight="normal" textLength="21.41" lengthAdjust="spacingAndGlyphs"  style="stroke:#222;stroke-width:0.08px;">10000</text>
<text x="326.90" y="318.67" font-size="7.7" text-anchor="start" fill="#333" font-weight="normal" textLength="17.3" lengthAdjust="spacingAndGlyphs"  style="stroke:#333;stroke-width:0.1px;">grade</text>
<circle cx="347.70" cy="315.90" r="0.9" fill="#c8102e"/>
<text x="352.00" y="318.67" font-size="7.7" text-anchor="start" fill="#333" font-weight="normal" textLength="59.8" lengthAdjust="spacingAndGlyphs"  style="stroke:#333;stroke-width:0.1px;">no SAE Peg-related</text>
<circle cx="415.90" cy="315.90" r="0.9" fill="#5e7d56"/>
<text x="419.90" y="318.67" font-size="7.7" text-anchor="start" fill="#333" font-weight="normal" textLength="9" lengthAdjust="spacingAndGlyphs"  style="stroke:#333;stroke-width:0.1px;">G2</text>
<circle cx="432.90" cy="315.90" r="0.9" fill="#3b3b3b"/>
<text x="437.20" y="318.67" font-size="7.7" text-anchor="start" fill="#333" font-weight="normal" textLength="9" lengthAdjust="spacingAndGlyphs"  style="stroke:#333;stroke-width:0.1px;">G3</text>
<circle cx="450.70" cy="315.90" r="0.9" fill="#2b2b2b"/>
<text x="455.00" y="318.67" font-size="7.7" text-anchor="start" fill="#333" font-weight="normal" textLength="9" lengthAdjust="spacingAndGlyphs"  style="stroke:#333;stroke-width:0.1px;">G4</text>
<circle cx="468.00" cy="315.90" r="0.9" fill="#222"/>
<text x="472.30" y="318.67" font-size="7.7" text-anchor="start" fill="#333" font-weight="normal" textLength="9" lengthAdjust="spacingAndGlyphs"  style="stroke:#333;stroke-width:0.1px;">G5</text>
<text x="382.80" y="301.09" font-size="9.7" text-anchor="start" fill="#1a1a1a" font-weight="normal" textLength="43" lengthAdjust="spacingAndGlyphs"  style="stroke:#1a1a1a;stroke-width:0.18">PegASP C1+C2</text>
<circle cx="312.17" cy="228.50" r="0.95" fill="#c8102e"/>
<circle cx="396.10" cy="212.70" r="0.95" fill="#c8102e"/>
<circle cx="425.98" cy="217.00" r="0.95" fill="#c8102e"/>
<circle cx="456.19" cy="227.50" r="0.95" fill="#222222"/>
<circle cx="493.12" cy="243.00" r="0.95" fill="#2b2b2b"/>
<circle cx="328.28" cy="248.20" r="0.95" fill="#3b3b3b"/>
<circle cx="333.65" cy="248.20" r="0.95" fill="#5e7d56"/>
<circle cx="336.11" cy="246.00" r="0.95" fill="#c8102e"/>
<circle cx="327.27" cy="253.70" r="0.95" fill="#c8102e"/>
<circle cx="328.73" cy="257.00" r="0.95" fill="#3b3b3b"/>
<circle cx="325.26" cy="257.00" r="0.95" fill="#c8102e"/>
<circle cx="324.70" cy="260.20" r="0.95" fill="#5e7d56"/>
<circle cx="336.67" cy="261.00" r="0.95" fill="#2b2b2b"/>
<circle cx="323.25" cy="265.50" r="0.95" fill="#5e7d56"/>
<circle cx="356.59" cy="236.70" r="0.95" fill="#c8102e"/>
<circle cx="370.02" cy="239.80" r="0.95" fill="#3b3b3b"/>
<circle cx="370.02" cy="243.00" r="0.95" fill="#c8102e"/>
<circle cx="353.80" cy="245.00" r="0.95" fill="#c8102e"/>
<circle cx="363.87" cy="244.70" r="0.95" fill="#5e7d56"/>
<circle cx="354.36" cy="248.80" r="0.95" fill="#c8102e"/>
<circle cx="358.83" cy="249.60" r="0.95" fill="#2b2b2b"/>
<circle cx="363.87" cy="250.50" r="0.95" fill="#c8102e"/>
<circle cx="366.11" cy="248.50" r="0.95" fill="#c8102e"/>
<circle cx="368.34" cy="249.50" r="0.95" fill="#c8102e"/>
<circle cx="370.58" cy="247.50" r="0.95" fill="#5e7d56"/>
<circle cx="371.70" cy="250.00" r="0.95" fill="#c8102e"/>
<circle cx="375.62" cy="249.50" r="0.95" fill="#c8102e"/>
<circle cx="377.86" cy="247.00" r="0.95" fill="#c8102e"/>
<circle cx="367.22" cy="252.00" r="0.95" fill="#c8102e"/>
<circle cx="354.36" cy="254.00" r="0.95" fill="#3b3b3b"/>
<circle cx="362.75" cy="255.00" r="0.95" fill="#5e7d56"/>
<circle cx="354.36" cy="259.00" r="0.95" fill="#c8102e"/>
<circle cx="358.27" cy="259.00" r="0.95" fill="#c8102e"/>
<circle cx="361.63" cy="258.50" r="0.95" fill="#c8102e"/>
<circle cx="362.75" cy="260.00" r="0.95" fill="#c8102e"/>
<circle cx="366.11" cy="260.00" r="0.95" fill="#c8102e"/>
<circle cx="354.36" cy="261.00" r="0.95" fill="#c8102e"/>
<circle cx="365.55" cy="261.50" r="0.95" fill="#c8102e"/>
<circle cx="369.46" cy="257.00" r="0.95" fill="#c8102e"/>
<circle cx="375.06" cy="257.00" r="0.95" fill="#c8102e"/>
<circle cx="354.36" cy="262.00" r="0.95" fill="#c8102e"/>
<circle cx="352.68" cy="265.00" r="0.95" fill="#c8102e"/>
<circle cx="357.15" cy="263.50" r="0.95" fill="#3b3b3b"/>
<circle cx="363.31" cy="264.00" r="0.95" fill="#5e7d56"/>
<circle cx="366.11" cy="262.00" r="0.95" fill="#c8102e"/>
<circle cx="369.46" cy="263.00" r="0.95" fill="#c8102e"/>
<circle cx="356.03" cy="267.00" r="0.95" fill="#c8102e"/>
<circle cx="358.27" cy="268.00" r="0.95" fill="#2b2b2b"/>
<circle cx="361.63" cy="267.00" r="0.95" fill="#3b3b3b"/>
<circle cx="365.55" cy="266.50" r="0.95" fill="#c8102e"/>
<circle cx="367.22" cy="265.00" r="0.95" fill="#c8102e"/>
<circle cx="349.88" cy="270.50" r="0.95" fill="#c8102e"/>
<circle cx="349.32" cy="273.00" r="0.95" fill="#c8102e"/>
<circle cx="354.36" cy="273.00" r="0.95" fill="#c8102e"/>
<circle cx="357.71" cy="269.00" r="0.95" fill="#5e7d56"/>
<circle cx="378.86" cy="246.50" r="0.95" fill="#c8102e"/>
<circle cx="404.60" cy="248.20" r="0.95" fill="#c8102e"/>
<circle cx="399.12" cy="252.20" r="0.95" fill="#3b3b3b"/>
<circle cx="425.86" cy="247.80" r="0.95" fill="#c8102e"/>
<circle cx="396.21" cy="262.80" r="0.95" fill="#c8102e"/>
<circle cx="398.67" cy="263.20" r="0.95" fill="#3b3b3b"/>
<circle cx="407.06" cy="261.50" r="0.95" fill="#c8102e"/>
<circle cx="409.97" cy="261.90" r="0.95" fill="#c8102e"/>
<circle cx="412.99" cy="261.50" r="0.95" fill="#c8102e"/>
<circle cx="412.99" cy="263.20" r="0.95" fill="#c8102e"/>
<circle cx="412.99" cy="264.60" r="0.95" fill="#c8102e"/>
<circle cx="417.47" cy="261.90" r="0.95" fill="#c8102e"/>
<circle cx="417.47" cy="263.20" r="0.95" fill="#c8102e"/>
<circle cx="421.39" cy="261.50" r="0.95" fill="#c8102e"/>
<circle cx="421.39" cy="263.20" r="0.95" fill="#c8102e"/>
<circle cx="421.39" cy="265.00" r="0.95" fill="#c8102e"/>
<circle cx="409.97" cy="265.90" r="0.95" fill="#3b3b3b"/>
<circle cx="417.47" cy="267.70" r="0.95" fill="#c8102e"/>
<circle cx="421.39" cy="266.80" r="0.95" fill="#2b2b2b"/>
<circle cx="400.13" cy="269.90" r="0.95" fill="#c8102e"/>
<circle cx="402.59" cy="271.20" r="0.95" fill="#c8102e"/>
<circle cx="409.08" cy="271.20" r="0.95" fill="#c8102e"/>
<circle cx="412.99" cy="272.10" r="0.95" fill="#3b3b3b"/>
<circle cx="417.47" cy="271.20" r="0.95" fill="#c8102e"/>
<circle cx="422.39" cy="269.40" r="0.95" fill="#c8102e"/>
<circle cx="423.40" cy="272.50" r="0.95" fill="#c8102e"/>
<circle cx="426.76" cy="260.60" r="0.95" fill="#c8102e"/>
<circle cx="427.32" cy="263.20" r="0.95" fill="#c8102e"/>
<circle cx="427.32" cy="268.50" r="0.95" fill="#c8102e"/>
<circle cx="448.92" cy="235.20" r="0.95" fill="#c8102e"/>
<circle cx="450.93" cy="239.60" r="0.95" fill="#c8102e"/>
<circle cx="449.14" cy="241.20" r="0.95" fill="#c8102e"/>
<circle cx="441.87" cy="244.40" r="0.95" fill="#c8102e"/>
<circle cx="445.56" cy="245.50" r="0.95" fill="#c8102e"/>
<circle cx="425.64" cy="247.70" r="0.95" fill="#c8102e"/>
<circle cx="431.01" cy="248.70" r="0.95" fill="#c8102e"/>
<circle cx="438.28" cy="247.10" r="0.95" fill="#c8102e"/>
<circle cx="444.33" cy="248.20" r="0.95" fill="#c8102e"/>
<circle cx="438.84" cy="250.90" r="0.95" fill="#3b3b3b"/>
<circle cx="445.56" cy="250.90" r="0.95" fill="#c8102e"/>
<circle cx="427.99" cy="252.50" r="0.95" fill="#c8102e"/>
<circle cx="434.03" cy="255.70" r="0.95" fill="#c8102e"/>
<circle cx="437.73" cy="256.30" r="0.95" fill="#c8102e"/>
<circle cx="444.33" cy="255.20" r="0.95" fill="#c8102e"/>
<circle cx="426.76" cy="260.00" r="0.95" fill="#c8102e"/>
<circle cx="432.24" cy="260.60" r="0.95" fill="#c8102e"/>
<circle cx="435.26" cy="260.60" r="0.95" fill="#c8102e"/>
<circle cx="438.28" cy="258.40" r="0.95" fill="#c8102e"/>
<circle cx="441.31" cy="262.20" r="0.95" fill="#c8102e"/>
<circle cx="444.33" cy="261.70" r="0.95" fill="#c8102e"/>
<circle cx="425.64" cy="263.30" r="0.95" fill="#c8102e"/>
<circle cx="434.03" cy="263.80" r="0.95" fill="#c8102e"/>
<circle cx="442.54" cy="263.80" r="0.95" fill="#c8102e"/>
<circle cx="427.99" cy="265.50" r="0.95" fill="#c8102e"/>
<circle cx="434.03" cy="266.50" r="0.95" fill="#c8102e"/>
<circle cx="438.84" cy="266.00" r="0.95" fill="#c8102e"/>
<circle cx="445.56" cy="266.50" r="0.95" fill="#c8102e"/>
<circle cx="448.58" cy="265.50" r="0.95" fill="#c8102e"/>
<circle cx="428.66" cy="268.70" r="0.95" fill="#c8102e"/>
<circle cx="431.01" cy="268.10" r="0.95" fill="#c8102e"/>
<circle cx="440.08" cy="267.60" r="0.95" fill="#c8102e"/>
<circle cx="448.58" cy="268.70" r="0.95" fill="#c8102e"/>
<circle cx="449.14" cy="270.30" r="0.95" fill="#c8102e"/>
<circle cx="435.49" cy="253.00" r="0.95" fill="#c8102e"/>
<circle cx="439.96" cy="254.00" r="0.95" fill="#c8102e"/>
<circle cx="442.20" cy="257.00" r="0.95" fill="#c8102e"/>
<circle cx="446.12" cy="258.00" r="0.95" fill="#c8102e"/>
<circle cx="436.05" cy="258.50" r="0.95" fill="#c8102e"/>
<circle cx="429.89" cy="256.00" r="0.95" fill="#c8102e"/>
<circle cx="446.68" cy="253.00" r="0.95" fill="#3b3b3b"/>
<circle cx="444.44" cy="252.00" r="0.95" fill="#c8102e"/>
<circle cx="449.25" cy="245.80" r="0.95" fill="#c8102e"/>
<circle cx="449.25" cy="248.50" r="0.95" fill="#3b3b3b"/>
<circle cx="449.25" cy="251.20" r="0.95" fill="#c8102e"/>
<circle cx="449.25" cy="254.00" r="0.95" fill="#c8102e"/>
<circle cx="449.25" cy="256.80" r="0.95" fill="#c8102e"/>
<circle cx="449.25" cy="259.50" r="0.95" fill="#3b3b3b"/>
<circle cx="449.25" cy="262.20" r="0.95" fill="#c8102e"/>
<text x="116.00" y="341.88" font-size="10.5" text-anchor="start" fill="#111" font-weight="bold"  style="stroke:#111;stroke-width:0.2px;">E</text>
<text x="164.60" y="353.84" font-size="7.9" text-anchor="start" fill="#1e1e1e" font-weight="normal" textLength="227.7" lengthAdjust="spacingAndGlyphs"  style="stroke:#1e1e1e;stroke-width:0.12px;">Scatter plot BMI - dosage PegASP C1+C2 by SAE (yes/no) and Age</text>
<text x="194.80" y="368.91" font-size="7.8" text-anchor="middle" fill="#222" font-weight="normal"  style="stroke:#222;stroke-width:0.05px;">18-40</text>
<text x="277.70" y="368.91" font-size="7.8" text-anchor="middle" fill="#222" font-weight="normal"  style="stroke:#222;stroke-width:0.05px;">41-55</text>
<text x="360.90" y="368.91" font-size="7.8" text-anchor="middle" fill="#222" font-weight="normal"  style="stroke:#222;stroke-width:0.05px;">55+</text>
<line x1="153.80" y1="370.80" x2="153.80" y2="446.90" stroke="#222" stroke-width="1"/>
<line x1="150.80" y1="387.10" x2="153.80" y2="387.10" stroke="#222" stroke-width="1"/>
<text x="147.80" y="389.98" font-size="8.0" text-anchor="end" fill="#222" font-weight="normal"  style="stroke:#222;stroke-width:0.2px;">40</text>
<line x1="150.80" y1="411.50" x2="153.80" y2="411.50" stroke="#222" stroke-width="1"/>
<text x="147.80" y="414.38" font-size="8.0" text-anchor="end" fill="#222" font-weight="normal"  style="stroke:#222;stroke-width:0.2px;">30</text>
<line x1="150.80" y1="435.80" x2="153.80" y2="435.80" stroke="#222" stroke-width="1"/>
<text x="147.80" y="438.68" font-size="8.0" text-anchor="end" fill="#222" font-weight="normal"  style="stroke:#222;stroke-width:0.2px;">20</text>
<text transform="translate(129.4,408.3) rotate(-90)" x="0" y="0" font-size="9" text-anchor="middle" fill="#1a1a1a" style="stroke:#1a1a1a;stroke-width:0.12" textLength="10.7" lengthAdjust="spacingAndGlyphs" dominant-baseline="central">bmi</text>
<line x1="153.30" y1="446.40" x2="236.30" y2="446.40" stroke="#222" stroke-width="1"/>
<line x1="158.10" y1="446.40" x2="158.10" y2="449.00" stroke="#222" stroke-width="1"/>
<text transform="translate(157.10,450.8) rotate(-45)" x="0" y="0" font-size="7.3" text-anchor="end" fill="#222" dominant-baseline="hanging">0</text>
<line x1="177.25" y1="446.40" x2="177.25" y2="449.00" stroke="#222" stroke-width="1"/>
<text transform="translate(176.25,450.8) rotate(-45)" x="0" y="0" font-size="7.3" text-anchor="end" fill="#222" dominant-baseline="hanging">2500</text>
<line x1="196.40" y1="446.40" x2="196.40" y2="449.00" stroke="#222" stroke-width="1"/>
<text transform="translate(195.40,450.8) rotate(-45)" x="0" y="0" font-size="7.3" text-anchor="end" fill="#222" dominant-baseline="hanging">5000</text>
<line x1="215.55" y1="446.40" x2="215.55" y2="449.00" stroke="#222" stroke-width="1"/>
<text transform="translate(214.55,450.8) rotate(-45)" x="0" y="0" font-size="7.3" text-anchor="end" fill="#222" dominant-baseline="hanging">7500</text>
<line x1="234.70" y1="446.40" x2="234.70" y2="449.00" stroke="#222" stroke-width="1"/>
<text transform="translate(233.70,450.8) rotate(-45)" x="0" y="0" font-size="7.3" text-anchor="end" fill="#222" dominant-baseline="hanging">10000</text>
<line x1="237.40" y1="446.40" x2="320.00" y2="446.40" stroke="#222" stroke-width="1"/>
<line x1="240.60" y1="446.40" x2="240.60" y2="449.00" stroke="#222" stroke-width="1"/>
<text transform="translate(239.60,450.8) rotate(-45)" x="0" y="0" font-size="7.3" text-anchor="end" fill="#222" dominant-baseline="hanging">0</text>
<line x1="259.98" y1="446.40" x2="259.98" y2="449.00" stroke="#222" stroke-width="1"/>
<text transform="translate(258.98,450.8) rotate(-45)" x="0" y="0" font-size="7.3" text-anchor="end" fill="#222" dominant-baseline="hanging">2500</text>
<line x1="279.35" y1="446.40" x2="279.35" y2="449.00" stroke="#222" stroke-width="1"/>
<text transform="translate(278.35,450.8) rotate(-45)" x="0" y="0" font-size="7.3" text-anchor="end" fill="#222" dominant-baseline="hanging">5000</text>
<line x1="298.73" y1="446.40" x2="298.73" y2="449.00" stroke="#222" stroke-width="1"/>
<text transform="translate(297.73,450.8) rotate(-45)" x="0" y="0" font-size="7.3" text-anchor="end" fill="#222" dominant-baseline="hanging">7500</text>
<line x1="318.10" y1="446.40" x2="318.10" y2="449.00" stroke="#222" stroke-width="1"/>
<text transform="translate(317.10,450.8) rotate(-45)" x="0" y="0" font-size="7.3" text-anchor="end" fill="#222" dominant-baseline="hanging">10000</text>
<line x1="321.50" y1="446.40" x2="403.60" y2="446.40" stroke="#222" stroke-width="1"/>
<line x1="324.70" y1="446.40" x2="324.70" y2="449.00" stroke="#222" stroke-width="1"/>
<text transform="translate(323.70,450.8) rotate(-45)" x="0" y="0" font-size="7.3" text-anchor="end" fill="#222" dominant-baseline="hanging">0</text>
<line x1="343.90" y1="446.40" x2="343.90" y2="449.00" stroke="#222" stroke-width="1"/>
<text transform="translate(342.90,450.8) rotate(-45)" x="0" y="0" font-size="7.3" text-anchor="end" fill="#222" dominant-baseline="hanging">2500</text>
<line x1="363.10" y1="446.40" x2="363.10" y2="449.00" stroke="#222" stroke-width="1"/>
<text transform="translate(362.10,450.8) rotate(-45)" x="0" y="0" font-size="7.3" text-anchor="end" fill="#222" dominant-baseline="hanging">5000</text>
<line x1="382.30" y1="446.40" x2="382.30" y2="449.00" stroke="#222" stroke-width="1"/>
<text transform="translate(381.30,450.8) rotate(-45)" x="0" y="0" font-size="7.3" text-anchor="end" fill="#222" dominant-baseline="hanging">7500</text>
<line x1="401.50" y1="446.40" x2="401.50" y2="449.00" stroke="#222" stroke-width="1"/>
<text transform="translate(400.50,450.8) rotate(-45)" x="0" y="0" font-size="7.3" text-anchor="end" fill="#222" dominant-baseline="hanging">10000</text>
<text x="256.40" y="483.09" font-size="9.7" text-anchor="start" fill="#1a1a1a" font-weight="normal" textLength="43" lengthAdjust="spacingAndGlyphs"  style="stroke:#1a1a1a;stroke-width:0.18">PegASP C1+C2</text>
<text x="197.30" y="499.97" font-size="7.7" text-anchor="start" fill="#333" font-weight="normal" textLength="11" lengthAdjust="spacingAndGlyphs"  style="stroke:#333;stroke-width:0.1px;">sae</text>
<line x1="210.60" y1="497.20" x2="217.30" y2="497.20" stroke="#c8102e" stroke-width="1"/>
<line x1="214.00" y1="495.80" x2="214.00" y2="498.60" stroke="#c8102e" stroke-width="0.8"/>
<text x="220.80" y="499.97" font-size="7.7" text-anchor="start" fill="#333" font-weight="normal" textLength="59.6" lengthAdjust="spacingAndGlyphs"  style="stroke:#333;stroke-width:0.1px;">no SAE Peg-related</text>
<line x1="285.60" y1="497.20" x2="291.50" y2="497.20" stroke="#1f3a66" stroke-width="1"/>
<line x1="288.50" y1="495.80" x2="288.50" y2="498.60" stroke="#1f3a66" stroke-width="0.8"/>
<text x="294.20" y="499.97" font-size="7.7" text-anchor="start" fill="#333" font-weight="normal" textLength="66" lengthAdjust="spacingAndGlyphs"  style="stroke:#333;stroke-width:0.1px;">SAE Peg-related ≥G2</text>
<text x="156.30" y="388.14" font-size="7.6" text-anchor="start" fill="#3a6592" font-weight="normal"  style="stroke:#3a6592;stroke-width:0.2px;"><tspan font-style="italic">R</tspan> = 0.07, <tspan font-style="italic">P</tspan> = .82</text>
<text x="156.30" y="398.04" font-size="7.6" text-anchor="start" fill="#b83250" font-weight="normal"  style="stroke:#b83250;stroke-width:0.2px;"><tspan font-style="italic">R</tspan> = 0.17, <tspan font-style="italic">P</tspan> = .12</text>
<text x="242.10" y="379.24" font-size="7.6" text-anchor="start" fill="#3a6592" font-weight="normal"  style="stroke:#3a6592;stroke-width:0.2px;"><tspan font-style="italic">R</tspan> = 0.57, <tspan font-style="italic">P</tspan> = .051</text>
<text x="242.10" y="389.24" font-size="7.6" text-anchor="start" fill="#b83250" font-weight="normal"  style="stroke:#b83250;stroke-width:0.2px;"><tspan font-style="italic">R</tspan> = 0.18, <tspan font-style="italic">P</tspan> = .26</text>
<text x="340.20" y="386.74" font-size="7.6" text-anchor="start" fill="#3a6592" font-weight="normal"  style="stroke:#3a6592;stroke-width:0.2px;"><tspan font-style="italic">R</tspan> = −0.24, <tspan font-style="italic">P</tspan> = .48</text>
<text x="340.20" y="397.24" font-size="7.6" text-anchor="start" fill="#b83250" font-weight="normal"  style="stroke:#b83250;stroke-width:0.2px;"><tspan font-style="italic">R</tspan> = 0.012, <tspan font-style="italic">P</tspan> = .96</text>
<circle cx="186.20" cy="404.90" r="1.1" fill="#1f3a66"/>
<circle cx="184.70" cy="415.70" r="1.1" fill="#c8102e"/>
<circle cx="198.40" cy="415.20" r="1.1" fill="#c8102e"/>
<circle cx="183.70" cy="422.00" r="1.1" fill="#1f3a66"/>
<circle cx="186.20" cy="423.50" r="1.1" fill="#1f3a66"/>
<circle cx="181.80" cy="426.50" r="1.1" fill="#c8102e"/>
<circle cx="180.30" cy="428.40" r="1.1" fill="#c8102e"/>
<circle cx="181.80" cy="429.40" r="1.1" fill="#c8102e"/>
<circle cx="184.70" cy="429.40" r="1.1" fill="#c8102e"/>
<circle cx="180.80" cy="433.80" r="1.1" fill="#c8102e"/>
<circle cx="182.70" cy="435.80" r="1.1" fill="#1f3a66"/>
<circle cx="184.20" cy="433.80" r="1.1" fill="#c8102e"/>
<circle cx="196.00" cy="431.90" r="1.1" fill="#1f3a66"/>
<circle cx="185.20" cy="415.50" r="1.1" fill="#c8102e"/>
<circle cx="183.60" cy="421.80" r="1.1" fill="#1f3a66"/>
<circle cx="180.90" cy="426.80" r="1.1" fill="#c8102e"/>
<circle cx="182.50" cy="426.30" r="1.1" fill="#c8102e"/>
<circle cx="184.10" cy="425.70" r="1.1" fill="#c8102e"/>
<circle cx="180.40" cy="427.90" r="1.1" fill="#c8102e"/>
<circle cx="183.00" cy="428.40" r="1.1" fill="#c8102e"/>
<circle cx="185.20" cy="427.40" r="1.1" fill="#c8102e"/>
<circle cx="182.00" cy="429.50" r="1.1" fill="#c8102e"/>
<circle cx="180.40" cy="432.80" r="1.1" fill="#c8102e"/>
<circle cx="182.50" cy="433.80" r="1.1" fill="#c8102e"/>
<circle cx="184.70" cy="432.80" r="1.1" fill="#c8102e"/>
<circle cx="182.50" cy="436.00" r="1.1" fill="#1f3a66"/>
<circle cx="197.60" cy="439.20" r="1.1" fill="#c8102e"/>
<circle cx="198.70" cy="415.00" r="1.1" fill="#c8102e"/>
<circle cx="206.50" cy="379.40" r="1.1" fill="#c8102e"/>
<circle cx="215.00" cy="400.00" r="1.1" fill="#c8102e"/>
<circle cx="215.70" cy="405.90" r="1.1" fill="#c8102e"/>
<circle cx="212.00" cy="411.00" r="1.1" fill="#c8102e"/>
<circle cx="215.00" cy="412.50" r="1.1" fill="#c8102e"/>
<circle cx="212.00" cy="417.60" r="1.1" fill="#c8102e"/>
<circle cx="213.00" cy="416.50" r="1.1" fill="#c8102e"/>
<circle cx="211.50" cy="418.50" r="1.1" fill="#c8102e"/>
<circle cx="215.00" cy="419.10" r="1.1" fill="#1f3a66"/>
<circle cx="215.00" cy="421.00" r="1.1" fill="#1f3a66"/>
<circle cx="214.30" cy="423.50" r="1.1" fill="#c8102e"/>
<circle cx="209.10" cy="423.50" r="1.1" fill="#c8102e"/>
<circle cx="214.30" cy="426.50" r="1.1" fill="#c8102e"/>
<circle cx="201.00" cy="430.10" r="1.1" fill="#c8102e"/>
<circle cx="204.70" cy="430.10" r="1.1" fill="#c8102e"/>
<circle cx="208.40" cy="428.00" r="1.1" fill="#c8102e"/>
<circle cx="211.30" cy="429.40" r="1.1" fill="#c8102e"/>
<circle cx="195.90" cy="432.40" r="1.1" fill="#1f3a66"/>
<circle cx="200.30" cy="433.10" r="1.1" fill="#c8102e"/>
<circle cx="206.20" cy="433.10" r="1.1" fill="#c8102e"/>
<circle cx="210.60" cy="433.10" r="1.1" fill="#c8102e"/>
<circle cx="213.50" cy="430.90" r="1.1" fill="#c8102e"/>
<circle cx="201.00" cy="435.30" r="1.1" fill="#c8102e"/>
<circle cx="207.60" cy="436.00" r="1.1" fill="#c8102e"/>
<circle cx="212.80" cy="434.60" r="1.1" fill="#c8102e"/>
<circle cx="197.40" cy="439.70" r="1.1" fill="#c8102e"/>
<circle cx="204.70" cy="439.00" r="1.1" fill="#c8102e"/>
<circle cx="201.00" cy="441.20" r="1.1" fill="#c8102e"/>
<circle cx="206.20" cy="442.60" r="1.1" fill="#c8102e"/>
<circle cx="203.00" cy="431.50" r="1.1" fill="#c8102e"/>
<circle cx="206.00" cy="431.00" r="1.1" fill="#c8102e"/>
<circle cx="209.50" cy="431.00" r="1.1" fill="#c8102e"/>
<circle cx="212.50" cy="432.50" r="1.1" fill="#c8102e"/>
<circle cx="215.00" cy="428.00" r="1.1" fill="#c8102e"/>
<circle cx="215.00" cy="432.00" r="1.1" fill="#c8102e"/>
<circle cx="210.00" cy="426.00" r="1.1" fill="#c8102e"/>
<circle cx="212.50" cy="425.00" r="1.1" fill="#c8102e"/>
<circle cx="209.00" cy="437.50" r="1.1" fill="#c8102e"/>
<circle cx="204.00" cy="437.00" r="1.1" fill="#c8102e"/>
<circle cx="199.00" cy="437.00" r="1.1" fill="#c8102e"/>
<circle cx="215.00" cy="416.00" r="1.1" fill="#c8102e"/>
<circle cx="213.00" cy="421.00" r="1.1" fill="#c8102e"/>
<circle cx="215.30" cy="424.50" r="1.1" fill="#1f3a66"/>
<circle cx="198.50" cy="430.00" r="1.1" fill="#c8102e"/>
<circle cx="202.50" cy="428.50" r="1.1" fill="#1f3a66"/>
<circle cx="301.40" cy="391.10" r="1.1" fill="#1f3a66"/>
<circle cx="314.90" cy="409.00" r="1.1" fill="#1f3a66"/>
<circle cx="267.80" cy="410.60" r="1.1" fill="#1f3a66"/>
<circle cx="269.80" cy="409.00" r="1.1" fill="#c8102e"/>
<circle cx="264.40" cy="416.00" r="1.1" fill="#1f3a66"/>
<circle cx="266.40" cy="415.30" r="1.1" fill="#1f3a66"/>
<circle cx="268.50" cy="413.90" r="1.1" fill="#1f3a66"/>
<circle cx="269.80" cy="417.30" r="1.1" fill="#1f3a66"/>
<circle cx="280.60" cy="419.30" r="1.1" fill="#1f3a66"/>
<circle cx="265.80" cy="424.70" r="1.1" fill="#c8102e"/>
<circle cx="269.10" cy="424.70" r="1.1" fill="#c8102e"/>
<circle cx="271.80" cy="424.00" r="1.1" fill="#c8102e"/>
<circle cx="264.40" cy="426.70" r="1.1" fill="#c8102e"/>
<circle cx="267.10" cy="427.40" r="1.1" fill="#c8102e"/>
<circle cx="263.70" cy="430.10" r="1.1" fill="#c8102e"/>
<circle cx="265.10" cy="438.20" r="1.1" fill="#1f3a66"/>
<circle cx="263.70" cy="442.20" r="1.1" fill="#c8102e"/>
<circle cx="283.90" cy="430.10" r="1.1" fill="#c8102e"/>
<circle cx="285.30" cy="432.80" r="1.1" fill="#c8102e"/>
<circle cx="288.60" cy="432.10" r="1.1" fill="#c8102e"/>
<circle cx="291.30" cy="428.70" r="1.1" fill="#c8102e"/>
<circle cx="290.70" cy="438.20" r="1.1" fill="#c8102e"/>
<circle cx="286.60" cy="440.90" r="1.1" fill="#c8102e"/>
<circle cx="298.10" cy="439.50" r="1.1" fill="#c8102e"/>
<circle cx="290.60" cy="411.50" r="1.1" fill="#c8102e"/>
<circle cx="296.00" cy="412.90" r="1.1" fill="#c8102e"/>
<circle cx="297.30" cy="415.60" r="1.1" fill="#c8102e"/>
<circle cx="291.90" cy="419.60" r="1.1" fill="#c8102e"/>
<circle cx="298.70" cy="419.60" r="1.1" fill="#c8102e"/>
<circle cx="290.60" cy="423.70" r="1.1" fill="#c8102e"/>
<circle cx="296.00" cy="426.40" r="1.1" fill="#c8102e"/>
<circle cx="298.70" cy="427.70" r="1.1" fill="#c8102e"/>
<circle cx="294.60" cy="431.70" r="1.1" fill="#c8102e"/>
<circle cx="298.70" cy="434.40" r="1.1" fill="#c8102e"/>
<circle cx="296.80" cy="437.10" r="1.1" fill="#c8102e"/>
<circle cx="299.00" cy="409.50" r="1.1" fill="#c8102e"/>
<circle cx="293.50" cy="409.00" r="1.1" fill="#c8102e"/>
<circle cx="299.20" cy="423.00" r="1.1" fill="#c8102e"/>
<circle cx="292.50" cy="427.50" r="1.1" fill="#c8102e"/>
<circle cx="299.30" cy="430.50" r="1.1" fill="#c8102e"/>
<circle cx="362.70" cy="373.90" r="1.1" fill="#c8102e"/>
<circle cx="332.10" cy="392.80" r="1.1" fill="#c8102e"/>
<circle cx="348.50" cy="402.20" r="1.1" fill="#c8102e"/>
<circle cx="347.00" cy="410.80" r="1.1" fill="#c8102e"/>
<circle cx="338.30" cy="414.70" r="1.1" fill="#1f3a66"/>
<circle cx="340.70" cy="412.70" r="1.1" fill="#c8102e"/>
<circle cx="350.90" cy="414.70" r="1.1" fill="#c8102e"/>
<circle cx="352.50" cy="417.10" r="1.1" fill="#c8102e"/>
<circle cx="355.60" cy="416.30" r="1.1" fill="#c8102e"/>
<circle cx="356.40" cy="412.70" r="1.1" fill="#c8102e"/>
<circle cx="375.20" cy="416.30" r="1.1" fill="#c8102e"/>
<circle cx="337.60" cy="421.00" r="1.1" fill="#c8102e"/>
<circle cx="347.80" cy="421.00" r="1.1" fill="#1f3a66"/>
<circle cx="336.80" cy="425.00" r="1.1" fill="#1f3a66"/>
<circle cx="337.60" cy="424.20" r="1.1" fill="#1f3a66"/>
<circle cx="336.80" cy="428.90" r="1.1" fill="#1f3a66"/>
<circle cx="340.70" cy="429.70" r="1.1" fill="#1f3a66"/>
<circle cx="351.70" cy="429.70" r="1.1" fill="#c8102e"/>
<circle cx="348.50" cy="432.00" r="1.1" fill="#1f3a66"/>
<circle cx="350.10" cy="432.80" r="1.1" fill="#1f3a66"/>
<circle cx="336.00" cy="434.40" r="1.1" fill="#1f3a66"/>
<circle cx="362.70" cy="430.40" r="1.1" fill="#c8102e"/>
<circle cx="348.50" cy="436.70" r="1.1" fill="#c8102e"/>
<circle cx="346.20" cy="439.90" r="1.1" fill="#c8102e"/>
<circle cx="345.40" cy="442.20" r="1.1" fill="#c8102e"/>
<circle cx="365.00" cy="441.40" r="1.1" fill="#c8102e"/>
<line x1="180.30" y1="426.50" x2="214.00" y2="425.60" stroke="#3e6590" stroke-width="1.1"/>
<line x1="180.30" y1="429.40" x2="214.00" y2="427.40" stroke="#c8102e" stroke-width="1.1"/>
<line x1="265.10" y1="420.70" x2="314.90" y2="402.20" stroke="#3e6590" stroke-width="1.1"/>
<line x1="265.10" y1="426.00" x2="297.00" y2="423.90" stroke="#c8102e" stroke-width="1.1"/>
<line x1="332.10" y1="419.50" x2="374.50" y2="419.50" stroke="#c8102e" stroke-width="1.1"/>
<path d="M336.80,424.50 L342.00,426.50 L347.00,428.50 L350.50,430.50 L352.00,431.50" stroke="#3e6590" stroke-width="1.1" fill="none" stroke-linejoin="round"/>
<rect x="0.5" y="0.5" width="519" height="509" fill="none" stroke="#555" stroke-width="1"/>
</svg></body></html>
